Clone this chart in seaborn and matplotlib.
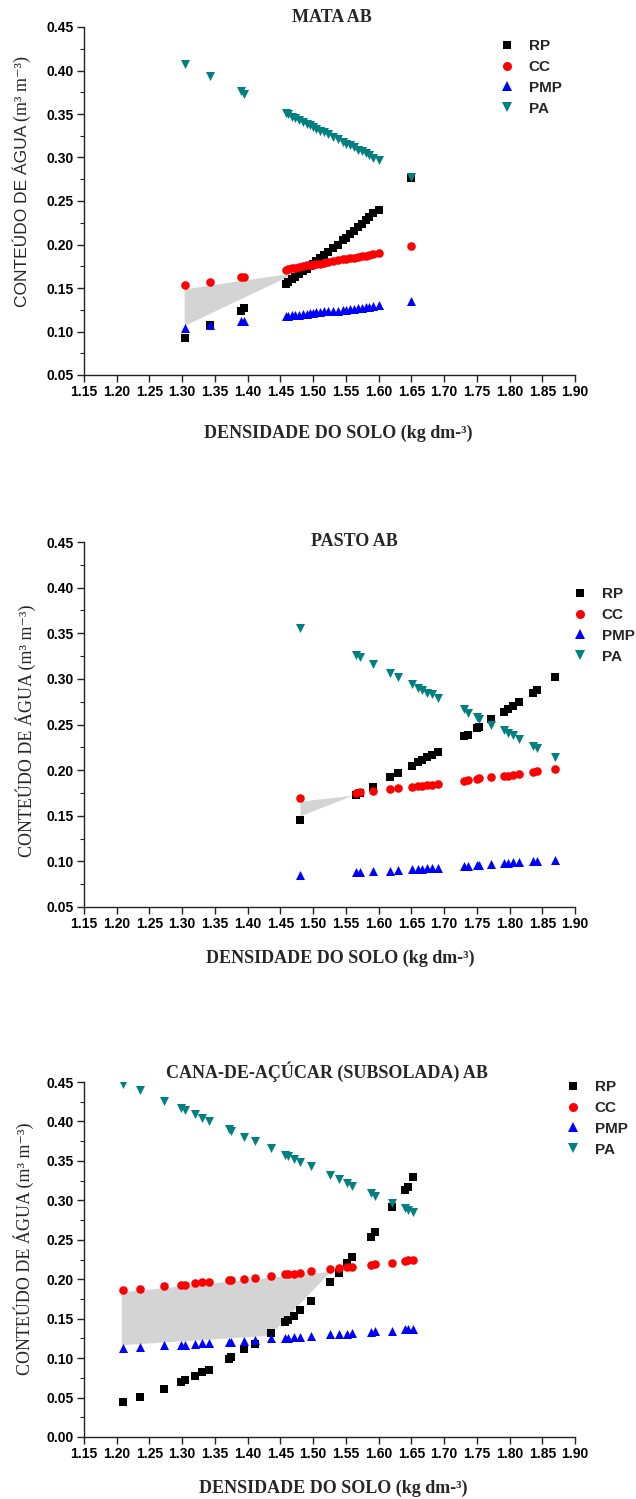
import numpy as np
import pandas as pd
import matplotlib
matplotlib.use('Agg')
import matplotlib.pyplot as plt
from matplotlib.lines import Line2D
from matplotlib.ticker import MultipleLocator, FormatStrFormatter
import seaborn as sns

# ---------------- data ----------------
series_names = ["RP", "CC", "PMP", "PA"]
titles = ["MATA AB", "PASTO AB", "CANA-DE-AÇÚCAR (SUBSOLADA) AB"]
x_ticks = [1.15, 1.20, 1.25, 1.30, 1.35, 1.40, 1.45, 1.50, 1.55, 1.60, 1.65, 1.70, 1.75, 1.80, 1.85, 1.90]

mata_dens = [1.305, 1.342, 1.390, 1.395, 1.458, 1.462, 1.468, 1.473, 1.478, 1.484, 1.490, 1.495, 1.500, 1.505,
             1.511, 1.517, 1.522, 1.530, 1.538, 1.545, 1.550, 1.556, 1.562, 1.568, 1.574, 1.580, 1.586, 1.592,
             1.601, 1.649]
mata_rp = [0.093, 0.107, 0.124, 0.127, 0.155, 0.157, 0.160, 0.163, 0.166, 0.169, 0.172, 0.175, 0.178, 0.181,
           0.184, 0.188, 0.191, 0.196, 0.200, 0.205, 0.208, 0.212, 0.216, 0.220, 0.224, 0.228, 0.232, 0.236,
           0.240, 0.276]
mata_cc = [0.153, 0.157, 0.163, 0.163, 0.171, 0.172, 0.173, 0.173, 0.174, 0.175, 0.176, 0.176, 0.177, 0.178,
           0.178, 0.179, 0.180, 0.181, 0.182, 0.183, 0.183, 0.184, 0.185, 0.186, 0.187, 0.187, 0.188, 0.189,
           0.190, 0.198]
mata_pmp = [0.104, 0.108, 0.112, 0.112, 0.118, 0.118, 0.119, 0.119, 0.119, 0.120, 0.120, 0.121, 0.121, 0.122,
            0.122, 0.123, 0.123, 0.124, 0.124, 0.125, 0.125, 0.126, 0.126, 0.127, 0.127, 0.128, 0.128, 0.129,
            0.130, 0.135]
mata_pa = [0.408, 0.394, 0.376, 0.373, 0.351, 0.3495, 0.347, 0.345, 0.3435, 0.341, 0.339, 0.337, 0.335, 0.333,
           0.331, 0.329, 0.327, 0.324, 0.321, 0.318, 0.316, 0.314, 0.312, 0.309, 0.307, 0.305, 0.303, 0.300,
           0.297, 0.278]
mata_iho_x = [1.303, 1.474]
mata_iho_lo = [0.107, 0.168]
mata_iho_hi = [0.149, 0.168]

pasto_dens = [1.480, 1.565, 1.572, 1.591, 1.618, 1.630, 1.651, 1.660, 1.667, 1.674, 1.681, 1.690, 1.730, 1.736,
              1.750, 1.754, 1.771, 1.792, 1.797, 1.805, 1.815, 1.836, 1.842, 1.870]
pasto_rp = [0.145, 0.173, 0.175, 0.182, 0.193, 0.197, 0.205, 0.209, 0.211, 0.214, 0.217, 0.220, 0.237, 0.239,
            0.246, 0.247, 0.256, 0.264, 0.267, 0.270, 0.275, 0.284, 0.288, 0.302]
pasto_cc = [0.169, 0.175, 0.176, 0.177, 0.179, 0.180, 0.182, 0.183, 0.183, 0.184, 0.184, 0.185, 0.188, 0.189,
            0.190, 0.191, 0.192, 0.194, 0.194, 0.195, 0.196, 0.198, 0.199, 0.201]
pasto_pmp = [0.085, 0.088, 0.088, 0.089, 0.090, 0.091, 0.092, 0.092, 0.092, 0.093, 0.093, 0.093, 0.095, 0.095,
             0.096, 0.096, 0.097, 0.098, 0.098, 0.099, 0.099, 0.100, 0.100, 0.102]
pasto_pa = [0.356, 0.326, 0.324, 0.316, 0.306, 0.302, 0.294, 0.290, 0.288, 0.285, 0.283, 0.279, 0.267, 0.263,
            0.258, 0.256, 0.249, 0.244, 0.241, 0.238, 0.234, 0.226, 0.224, 0.214]
pasto_iho_x = [1.480, 1.560]
pasto_iho_lo = [0.150, 0.1725]
pasto_iho_hi = [0.166, 0.1725]

cana_dens = [1.210, 1.236, 1.272, 1.298, 1.305, 1.320, 1.331, 1.341, 1.372, 1.375, 1.394, 1.411, 1.435, 1.457,
             1.462, 1.471, 1.480, 1.497, 1.526, 1.540, 1.551, 1.560, 1.588, 1.594, 1.621, 1.641, 1.645, 1.652]
cana_rp = [0.044, 0.051, 0.061, 0.070, 0.072, 0.077, 0.082, 0.085, 0.099, 0.101, 0.111, 0.118, 0.132, 0.146,
           0.148, 0.154, 0.161, 0.172, 0.197, 0.208, 0.220, 0.228, 0.254, 0.260, 0.292, 0.313, 0.317, 0.329]
cana_cc = [0.186, 0.188, 0.191, 0.193, 0.193, 0.195, 0.196, 0.196, 0.199, 0.199, 0.200, 0.202, 0.204, 0.206,
           0.206, 0.207, 0.208, 0.210, 0.213, 0.214, 0.215, 0.216, 0.218, 0.219, 0.221, 0.223, 0.224, 0.224]
cana_pmp = [0.113, 0.114, 0.116, 0.117, 0.117, 0.118, 0.119, 0.119, 0.121, 0.121, 0.122, 0.123, 0.125, 0.126,
            0.126, 0.127, 0.127, 0.128, 0.130, 0.131, 0.131, 0.132, 0.133, 0.134, 0.135, 0.137, 0.137, 0.137]
cana_pa = [0.448, 0.440, 0.426, 0.417, 0.414, 0.409, 0.404, 0.401, 0.390, 0.388, 0.380, 0.375, 0.366, 0.358,
           0.356, 0.352, 0.349, 0.343, 0.332, 0.327, 0.322, 0.318, 0.309, 0.306, 0.297, 0.290, 0.288, 0.285]
cana_iho_x = [1.207, 1.433, 1.526]
cana_iho_lo = [0.117, 0.129, 0.210]
cana_iho_hi = [0.184, 0.2024, 0.210]

# ---------------- style ----------------
sns.set_theme(style="ticks")
plt.rcParams['font.family'] = ['Liberation Sans', 'DejaVu Sans']
plt.rcParams['axes.linewidth'] = 1.0

colors = {"RP": "#000000", "CC": "#ff0000", "PMP": "#0000ff", "PA": "#008080"}
markers = {"RP": "s", "CC": "o", "PMP": "^", "PA": "v"}
sizes = {"RP": 26, "CC": 38, "PMP": 42, "PA": 42}
leg_ms = {"RP": 5.5, "CC": 6.5, "PMP": 7, "PA": 7}

W, H = 636, 1499
fig = plt.figure(figsize=(W / 100, H / 100), dpi=100)

def fx(px):
    return px / W

def fy(py):
    return 1 - py / H

serif = ['Liberation Serif', 'DejaVu Serif']

panels = [
    dict(dens=mata_dens, vals=[mata_rp, mata_cc, mata_pmp, mata_pa],
         iho=(mata_iho_x, mata_iho_lo, mata_iho_hi), top=27, bottom=375, ylim=(0.05, 0.45),
         title_xy=(332, 17), leg_xy=(499, 39), ylab_x=27, ylab_split=121, ylab_center=None,
         xlab_xy=(338, 433), sans_words=True),
    dict(dens=pasto_dens, vals=[pasto_rp, pasto_cc, pasto_pmp, pasto_pa],
         iho=(pasto_iho_x, pasto_iho_lo, pasto_iho_hi), top=542, bottom=907, ylim=(0.05, 0.45),
         title_xy=(354, 542), leg_xy=(572, 587), ylab_x=32, ylab_split=None, ylab_center=731,
         xlab_xy=(340, 958), sans_words=False),
    dict(dens=cana_dens, vals=[cana_rp, cana_cc, cana_pmp, cana_pa],
         iho=(cana_iho_x, cana_iho_lo, cana_iho_hi), top=1082, bottom=1437, ylim=(0.00, 0.45),
         title_xy=(327, 1072), leg_xy=(565, 1080), ylab_x=30, ylab_split=None, ylab_center=1249,
         xlab_xy=(333, 1488), sans_words=False),
]

left_px, right_px = 84, 575
for i, p in enumerate(panels):
    ax = fig.add_axes([fx(left_px), fy(p['bottom']), fx(right_px - left_px), (p['bottom'] - p['top']) / H])
    ax.set_facecolor('white')
    ix, ilo, ihi = p['iho']
    ax.fill_between(ix, ilo, ihi, color='#d4d4d4', linewidth=0, zorder=1)
    for name, v in zip(series_names, p['vals']):
        df = pd.DataFrame({"dens": p['dens'], "valor": v})
        sns.scatterplot(data=df, x="dens", y="valor", ax=ax, marker=markers[name], color=colors[name],
                        s=sizes[name], linewidth=0, zorder=3, legend=False)
    ax.set_xlim(1.15, 1.90)
    ax.set_ylim(*p['ylim'])
    ax.set_xticks(x_ticks)
    ax.xaxis.set_major_formatter(FormatStrFormatter('%.2f'))
    ax.yaxis.set_major_locator(MultipleLocator(0.05))
    ax.yaxis.set_minor_locator(MultipleLocator(0.025))
    ax.yaxis.set_major_formatter(FormatStrFormatter('%.2f'))
    ax.tick_params(axis='both', which='major', direction='out', length=5, width=1, pad=2.5,
                   labelsize=10, colors='#222222')
    ax.tick_params(axis='y', which='minor', direction='out', length=3, width=0.8, colors='#222222')
    for lab in ax.get_xticklabels() + ax.get_yticklabels():
        lab.set_fontweight('bold')
        lab.set_color('black')
    ax.set_xlabel('')
    ax.set_ylabel('')
    sns.despine(ax=ax)
    for s in ['left', 'bottom']:
        ax.spines[s].set_color('#222222')

    # title
    fig.text(fx(p['title_xy'][0]), fy(p['title_xy'][1]), titles[i], ha='center', va='center',
             fontsize=13, fontweight='bold', family=serif)
    # x label
    fig.text(fx(p['xlab_xy'][0]), fy(p['xlab_xy'][1]), 'DENSIDADE DO SOLO (kg dm-³)', ha='center',
             va='center', fontsize=13, fontweight='bold', family=serif)
    # y label
    if p['sans_words']:
        fig.text(fx(p['ylab_x']), fy(p['ylab_split']), 'CONTEÚDO DE ÁGUA ', rotation=90,
                 rotation_mode='anchor', ha='right', va='baseline', fontsize=12.5,
                 family=['Liberation Sans', 'DejaVu Sans'])
        fig.text(fx(p['ylab_x']), fy(p['ylab_split']), '(m³ m⁻³)', rotation=90,
                 rotation_mode='anchor', ha='left', va='baseline', fontsize=13, family=serif)
    else:
        fig.text(fx(p['ylab_x']), fy(p['ylab_center']), 'CONTEÚDO DE ÁGUA (m³ m⁻³)', rotation=90,
                 rotation_mode='anchor', ha='center', va='baseline', fontsize=13, family=serif)

    # legend
    handles = [Line2D([], [], marker=markers[n], ls='none', color=colors[n], markeredgewidth=0,
                      markersize=leg_ms[n], label=n) for n in series_names]
    leg = ax.legend(handles=handles, loc='upper left', bbox_to_anchor=(fx(p['leg_xy'][0]), fy(p['leg_xy'][1])),
                    bbox_transform=fig.transFigure, frameon=False, borderpad=0, borderaxespad=0,
                    handlelength=1.0, handletextpad=0.95, labelspacing=0.45,
                    prop=dict(family=['Liberation Sans', 'DejaVu Sans'], weight='bold', size=11))

fig.savefig('out.png', dpi=100)
